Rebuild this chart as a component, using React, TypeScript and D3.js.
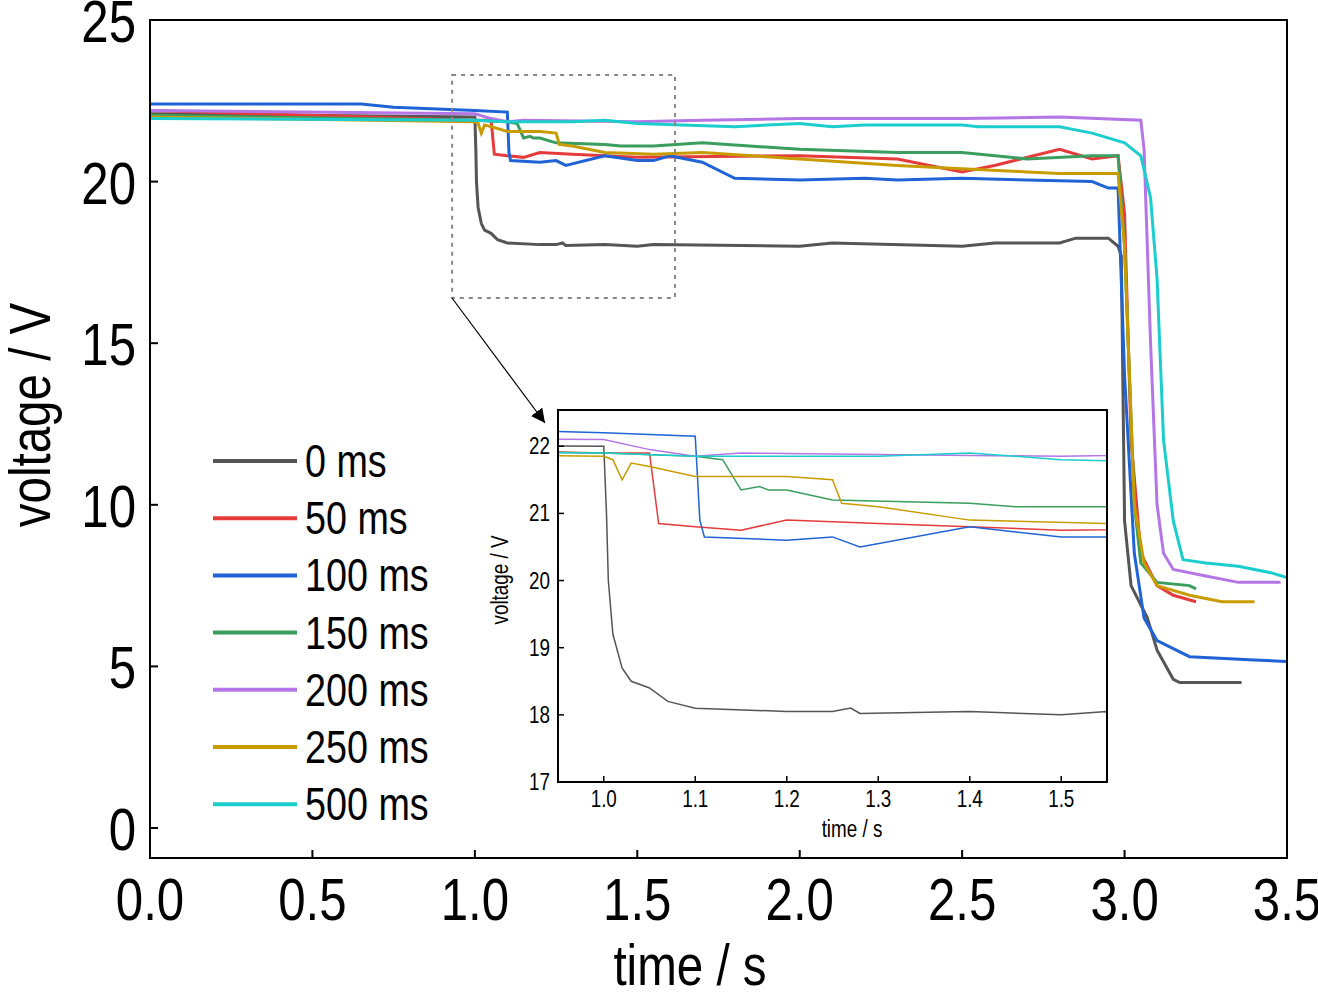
import React from "react";
import * as d3 from "d3";

type P = [number, number];
const names = ["0 ms", "50 ms", "100 ms", "150 ms", "200 ms", "250 ms", "500 ms"];
const colors = ["#555555", "#e53b3b", "#1f63d6", "#3a9e5e", "#b476e6", "#c89c00", "#1ccdcd"];
const s0: P[] = [[0,22.1],[1.0,22.0],[1.003,21],[1.005,20.0],[1.01,19.2],[1.02,18.7],[1.03,18.5],[1.05,18.4],[1.07,18.2],[1.1,18.1],[1.2,18.05],[1.25,18.05],[1.27,18.1],[1.28,18.02],[1.4,18.05],[1.5,18.0],[1.55,18.05],[2.0,18.0],[2.1,18.1],[2.5,18.0],[2.6,18.1],[2.8,18.1],[2.85,18.25],[2.95,18.25],[2.98,18.0],[2.99,17.7],[3.0,9.5],[3.02,7.5],[3.07,6.5],[3.1,5.5],[3.15,4.6],[3.17,4.5],[3.36,4.5]];
const s50: P[] = [[0,22.2],[1.0,21.9],[1.05,21.9],[1.06,20.85],[1.1,20.8],[1.15,20.75],[1.2,20.9],[1.3,20.85],[1.5,20.75],[2.0,20.8],[2.3,20.7],[2.5,20.3],[2.6,20.5],[2.8,21.0],[2.9,20.7],[2.98,20.8],[3.0,19.0],[3.02,12],[3.05,8.5],[3.1,7.5],[3.15,7.2],[3.22,7.0]];
const s100: P[] = [[0,22.4],[0.65,22.4],[0.75,22.3],[1.0,22.2],[1.1,22.15],[1.105,20.9],[1.11,20.65],[1.2,20.6],[1.25,20.65],[1.28,20.5],[1.4,20.8],[1.5,20.65],[1.55,20.65],[1.6,20.8],[1.7,20.6],[1.8,20.1],[2.0,20.05],[2.2,20.1],[2.3,20.05],[2.5,20.1],[2.9,20.0],[2.95,19.8],[2.98,19.8],[3.0,14],[3.03,8.5],[3.06,6.5],[3.1,5.8],[3.2,5.3],[3.4,5.2],[3.5,5.15]];
const s150: P[] = [[0,22.05],[1.0,21.9],[1.1,21.85],[1.13,21.8],[1.15,21.35],[1.17,21.4],[1.18,21.35],[1.2,21.35],[1.25,21.2],[1.4,21.15],[1.45,21.1],[1.55,21.1],[1.7,21.2],[2.0,21.0],[2.3,20.9],[2.5,20.9],[2.7,20.7],[2.9,20.8],[2.98,20.8],[3.0,18],[3.03,10],[3.05,8.2],[3.1,7.6],[3.2,7.5],[3.22,7.4]];
const s200: P[] = [[0,22.2],[1.0,22.1],[1.05,21.95],[1.1,21.85],[1.15,21.9],[1.5,21.85],[1.7,21.9],[2.0,21.95],[2.5,21.95],[2.8,22.0],[3.05,21.9],[3.06,21.0],[3.08,15],[3.1,10],[3.12,8.5],[3.15,8.0],[3.25,7.8],[3.35,7.6],[3.48,7.6]];
const s250: P[] = [[0,22.0],[1.0,21.85],[1.01,21.8],[1.02,21.5],[1.03,21.75],[1.05,21.7],[1.1,21.55],[1.2,21.55],[1.25,21.5],[1.26,21.15],[1.3,21.1],[1.4,20.9],[1.55,20.85],[1.7,20.9],[2.0,20.7],[2.3,20.5],[2.5,20.4],[2.7,20.3],[2.8,20.25],[2.98,20.25],[3.0,18],[3.03,10],[3.06,8.2],[3.1,7.5],[3.2,7.2],[3.3,7.0],[3.4,7.0]];
const s500: P[] = [[0,21.95],[1.0,21.9],[1.1,21.85],[1.3,21.85],[1.4,21.9],[1.5,21.8],[1.8,21.7],[2.0,21.8],[2.1,21.7],[2.2,21.75],[2.5,21.75],[2.55,21.7],[2.8,21.7],[2.9,21.5],[3.0,21.2],[3.05,20.8],[3.08,19.5],[3.1,17],[3.12,12],[3.15,9.5],[3.18,8.3],[3.25,8.2],[3.35,8.1],[3.45,7.9],[3.5,7.75]];
const series = [s0, s50, s100, s150, s200, s250, s500];
const xTicks = [0, 0.5, 1, 1.5, 2, 2.5, 3, 3.5];
const yTicks = [0, 5, 10, 15, 20, 25];
const ixTicks = [1.0, 1.1, 1.2, 1.3, 1.4, 1.5];
const iyTicks = [17, 18, 19, 20, 21, 22];

const F = "'Liberation Sans', Arial, sans-serif";

function T(props: { x: number; y: number; size: number; anchor?: string; rot?: boolean; children: React.ReactNode }) {
  const { x, y, size, anchor = "start", rot = false, children } = props;
  const tr = rot ? `translate(${x},${y}) rotate(-90) scale(0.82,1)` : `translate(${x},${y}) scale(0.82,1)`;
  return <text transform={tr} fontSize={size} textAnchor={anchor as any}>{children}</text>;
}

export default function App() {
  const L = 150, R = 1287, Tp = 20, B = 858;
  const x = d3.scaleLinear().domain([0, 3.5]).range([L, R]);
  const y = d3.scaleLinear().domain([0, 25]).range([828, Tp]);
  const iL = 558, iR = 1107, iT = 410, iB = 782;
  const ix = d3.scaleLinear().domain([0.95, 1.55]).range([iL, iR]);
  const iy = d3.scaleLinear().domain([17, 22.54]).range([iB, iT]);
  const line = d3.line<P>().x(d => x(d[0])).y(d => y(d[1]));
  const iline = d3.line<P>().x(d => ix(d[0])).y(d => iy(d[1]));
  return (
    <svg width={1318} height={1000} style={{ position: "absolute", left: 0, top: 0, background: "#fff" }} fontFamily={F}>
      <defs>
        <clipPath id="mc"><rect x={L} y={Tp} width={R - L} height={B - Tp} /></clipPath>
        <clipPath id="ic"><rect x={iL} y={iT} width={iR - iL} height={iB - iT} /></clipPath>
        <marker id="ar" viewBox="0 0 10 10" refX="10" refY="5" markerWidth="14" markerHeight="14" orient="auto" markerUnits="userSpaceOnUse">
          <path d="M0,0 L10,5 L0,10 z" fill="#000" />
        </marker>
      </defs>
      <g clipPath="url(#mc)">
        {series.map((s, i) => <path key={i} d={line(s)!} fill="none" stroke={colors[i]} strokeWidth={3} />)}
      </g>
      <rect x={L} y={Tp} width={R - L} height={B - Tp} fill="none" stroke="#000" strokeWidth={2} />
      {xTicks.map(t => <g key={t}>
        <line x1={x(t)} x2={x(t)} y1={B} y2={B - 8} stroke="#000" strokeWidth={2} />
        <T x={x(t)} y={920} size={60} anchor="middle">{t.toFixed(1)}</T>
      </g>)}
      {yTicks.map(t => <g key={t}>
        <line x1={L} x2={L + 8} y1={y(t)} y2={y(t)} stroke="#000" strokeWidth={2} />
        <T x={136} y={y(t) + 22} size={60} anchor="end">{t}</T>
      </g>)}
      <T x={690} y={985} size={58} anchor="middle">time / s</T>
      <T x={50} y={415} size={58} anchor="middle" rot>voltage / V</T>
      <rect x={x(0.93)} y={y(23.3)} width={x(1.616) - x(0.93)} height={y(16.4) - y(23.3)} fill="none" stroke="#888" strokeWidth={2} strokeDasharray="4,5" />
      <line x1={452} y1={298} x2={545} y2={423} stroke="#000" strokeWidth={1.2} markerEnd="url(#ar)" />
      {names.map((n, i) => <g key={n}>
        <line x1={213} x2={297} y1={461 + i * 57.2} y2={461 + i * 57.2} stroke={colors[i]} strokeWidth={4} />
        <T x={305} y={461 + i * 57.2 + 16} size={46}>{n}</T>
      </g>)}
      <rect x={iL} y={iT} width={iR - iL} height={iB - iT} fill="#fff" />
      <g clipPath="url(#ic)">
        {series.map((s, i) => <path key={i} d={iline(s)!} fill="none" stroke={colors[i]} strokeWidth={1.5} />)}
      </g>
      <rect x={iL} y={iT} width={iR - iL} height={iB - iT} fill="none" stroke="#000" strokeWidth={2} />
      {ixTicks.map(t => <g key={t}>
        <line x1={ix(t)} x2={ix(t)} y1={iB} y2={iB - 6} stroke="#000" strokeWidth={1.5} />
        <T x={ix(t)} y={iB + 25} size={23} anchor="middle">{t.toFixed(1)}</T>
      </g>)}
      {iyTicks.map(t => <g key={t}>
        <line x1={iL} x2={iL + 6} y1={iy(t)} y2={iy(t)} stroke="#000" strokeWidth={1.5} />
        <T x={iL - 8} y={iy(t) + 8} size={23} anchor="end">{t}</T>
      </g>)}
      <T x={852} y={837} size={23} anchor="middle">time / s</T>
      <T x={508} y={580} size={23} anchor="middle" rot>voltage / V</T>
    </svg>
  );
}
